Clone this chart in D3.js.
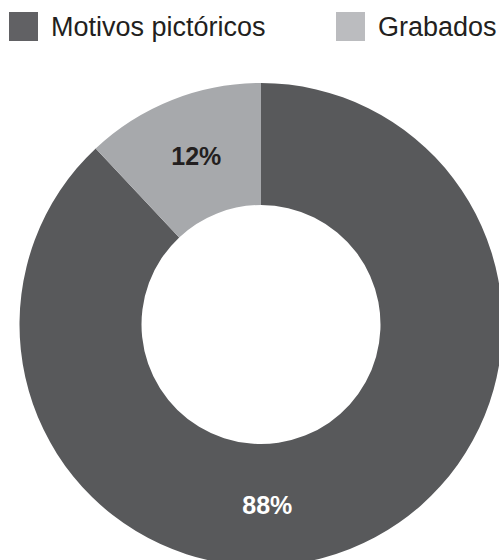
<!DOCTYPE html>
<html><head><meta charset="utf-8">
<script src="https://cdn.jsdelivr.net/npm/d3@7"></script>
<style>html,body{margin:0;padding:0;background:#fff;overflow:hidden}</style>
</head><body>
<svg id="chart" width="499" height="560"></svg>
<script>
const categories = ["Motivos pictóricos", "Grabados"];
const values = [88, 12];
const valueLabels = ["88%", "12%"];

const colors = ["#58595b", "#a7a9ac"];
const legendColors = ["#616164", "#bbbcbf"];
const labelColors = ["#ffffff", "#231f20"];
// label placement angles (degrees, clockwise from 12 o'clock)
const labelAngles = [178, -21];

const svg = d3.select("#chart");
const cx = 261, cy = 324.5, rOuter = 241.5, rInner = 119.5;

const data = categories.map((c, i) => ({cat: c, value: values[i], i}));
const pie = d3.pie().value(d => d.value).sort(null)
  .startAngle(0).endAngle(2 * Math.PI);
const arcs = pie(data);
const arc = d3.arc().innerRadius(rInner).outerRadius(rOuter);

const g = svg.append("g").attr("transform", `translate(${cx},${cy})`);
g.selectAll("path").data(arcs).enter().append("path")
  .attr("d", arc).attr("fill", d => colors[d.data.i]);

const rLabel = (rInner + rOuter) / 2;
g.selectAll("text").data(arcs).enter().append("text")
  .attr("x", d => rLabel * Math.sin(labelAngles[d.data.i] * Math.PI / 180))
  .attr("y", d => -rLabel * Math.cos(labelAngles[d.data.i] * Math.PI / 180))
  .attr("text-anchor", "middle").attr("dominant-baseline", "central")
  .attr("font-family", "Liberation Sans, Arial, sans-serif")
  .attr("font-weight", "bold").attr("font-size", 25)
  .attr("fill", d => labelColors[d.data.i])
  .text(d => valueLabels[d.data.i]);

// legend
const legendX = [9, 336];
const lg = svg.append("g");
categories.forEach((c, i) => {
  lg.append("rect").attr("x", legendX[i]).attr("y", 12).attr("width", 29).attr("height", 29)
    .attr("fill", legendColors[i]);
  lg.append("text").attr("x", legendX[i] + 42).attr("y", 36)
    .attr("font-family", "Liberation Sans, Arial, sans-serif")
    .attr("font-size", 27).attr("fill", "#231f20").text(c);
});
</script>
</body></html>
